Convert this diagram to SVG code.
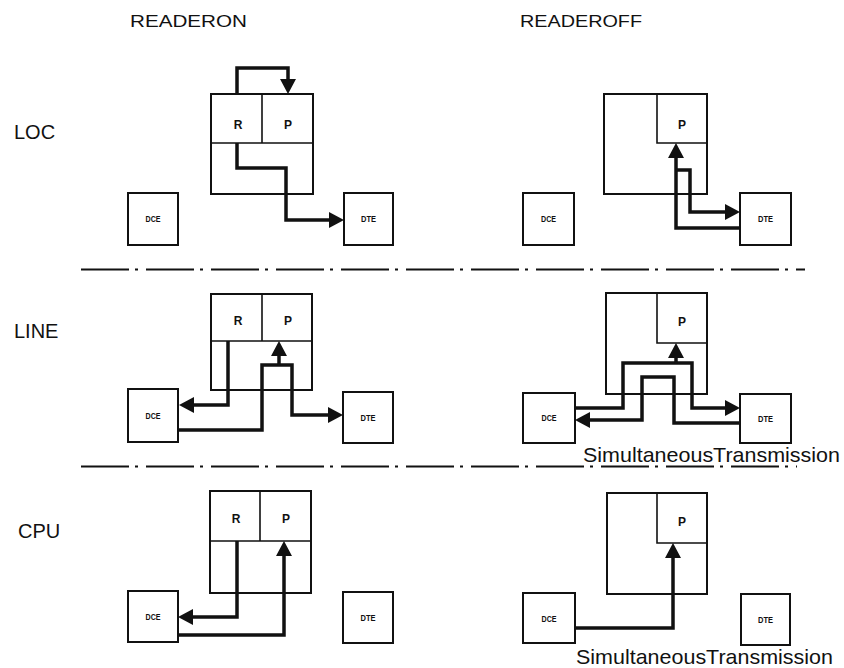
<svg xmlns="http://www.w3.org/2000/svg" width="844" height="668" viewBox="0 0 844 668">
<style>
.bg{fill:#fff}
.box{fill:none;stroke:#111;stroke-width:2}
.div{stroke:#111;stroke-width:1.6;fill:none}
.con{fill:none;stroke:#111;stroke-width:3.5;stroke-linejoin:miter}
.arr{marker-end:url(#ah)}
.dash{stroke:#111;stroke-width:2;stroke-dasharray:48 6 3 8;fill:none}
.hd{font-family:"Liberation Sans",Arial,sans-serif;font-size:17px;fill:#111}
.lb{font-family:"Liberation Sans",Arial,sans-serif;font-size:20px;fill:#111}
.rp{font-family:"Liberation Sans",Arial,sans-serif;font-size:12px;font-weight:bold;fill:#111;text-anchor:middle}
.sm{font-family:"Liberation Sans",Arial,sans-serif;font-size:9px;font-weight:bold;fill:#111;text-anchor:middle}
.st{font-family:"Liberation Sans",Arial,sans-serif;font-size:21px;fill:#111}
</style>
<defs>
<marker id="ah" markerUnits="userSpaceOnUse" markerWidth="16" markerHeight="16" refX="0" refY="8" orient="auto" viewBox="0 0 16 16">
<path d="M0,0 L15,8 L0,16 Z" fill="#111"/>
</marker>
</defs>
<rect class="bg" x="0" y="0" width="844" height="668"/>

<g id="headers">
<text class="hd" x="130" y="27" textLength="117" lengthAdjust="spacingAndGlyphs">READERON</text>
<text class="hd" x="520" y="27" textLength="122" lengthAdjust="spacingAndGlyphs">READEROFF</text>
</g>
<g id="row-labels">
<text class="lb" x="14" y="139">LOC</text>
<text class="lb" x="14" y="338">LINE</text>
<text class="lb" x="18" y="538">CPU</text>
</g>

<g id="separators">
<line class="dash" x1="81" y1="269.5" x2="805" y2="269.5"/>
<line class="dash" x1="81" y1="466.5" x2="797" y2="466.5"/>
</g>

<!-- Row 1 LOC / READERON -->
<g id="loc-on-proc">
<rect class="box" x="211" y="94" width="102" height="100"/>
<path class="div" d="M262,94 V143 M211,143 H313"/>
<text class="rp" x="238" y="129">R</text>
<text class="rp" x="288" y="129">P</text>
</g>
<g id="loc-on-dce"><rect class="box" x="128" y="193" width="50" height="52"/><text class="sm" x="153" y="222" textLength="15" lengthAdjust="spacingAndGlyphs">DCE</text></g>
<g id="loc-on-dte"><rect class="box" x="344" y="193" width="49" height="52"/><text class="sm" x="368.5" y="222" textLength="15" lengthAdjust="spacingAndGlyphs">DTE</text></g>

<!-- Row 1 LOC / READEROFF -->
<g id="loc-off-proc">
<rect class="box" x="604" y="94" width="103" height="100"/>
<path class="div" d="M657,94 V143 H707"/>
<text class="rp" x="682" y="129">P</text>
</g>
<g id="loc-off-dce"><rect class="box" x="523" y="193" width="51" height="52"/><text class="sm" x="548.5" y="222" textLength="15" lengthAdjust="spacingAndGlyphs">DCE</text></g>
<g id="loc-off-dte"><rect class="box" x="740" y="193" width="51" height="52"/><text class="sm" x="765.5" y="222" textLength="15" lengthAdjust="spacingAndGlyphs">DTE</text></g>

<!-- Row 2 LINE / READERON -->
<g id="line-on-proc">
<rect class="box" x="211" y="294" width="101" height="96"/>
<path class="div" d="M262,294 V341 M211,341 H312"/>
<text class="rp" x="238" y="325">R</text>
<text class="rp" x="288" y="325">P</text>
</g>
<g id="line-on-dce"><rect class="box" x="128" y="389" width="50" height="53"/><text class="sm" x="153" y="419" textLength="15" lengthAdjust="spacingAndGlyphs">DCE</text></g>
<g id="line-on-dte"><rect class="box" x="343" y="392" width="50" height="51"/><text class="sm" x="368" y="421" textLength="15" lengthAdjust="spacingAndGlyphs">DTE</text></g>

<!-- Row 2 LINE / READEROFF -->
<g id="line-off-proc">
<rect class="box" x="606" y="293" width="101" height="101"/>
<path class="div" d="M657,293 V343 H707"/>
<text class="rp" x="682" y="326">P</text>
</g>
<g id="line-off-dce"><rect class="box" x="523" y="393" width="52" height="50"/><text class="sm" x="549" y="421" textLength="15" lengthAdjust="spacingAndGlyphs">DCE</text></g>
<g id="line-off-dte"><rect class="box" x="740" y="394" width="51" height="49"/><text class="sm" x="765.5" y="422" textLength="15" lengthAdjust="spacingAndGlyphs">DTE</text></g>
<g id="line-note"><text class="st" x="583" y="462" textLength="257" lengthAdjust="spacingAndGlyphs">SimultaneousTransmission</text></g>

<!-- Row 3 CPU / READERON -->
<g id="cpu-on-proc">
<rect class="box" x="210" y="491" width="101" height="102"/>
<path class="div" d="M260,491 V541 M210,541 H311"/>
<text class="rp" x="236" y="523">R</text>
<text class="rp" x="286" y="523">P</text>
</g>
<g id="cpu-on-dce"><rect class="box" x="128" y="591" width="50" height="51"/><text class="sm" x="153" y="620" textLength="15" lengthAdjust="spacingAndGlyphs">DCE</text></g>
<g id="cpu-on-dte"><rect class="box" x="343" y="592" width="50" height="51"/><text class="sm" x="368" y="621" textLength="15" lengthAdjust="spacingAndGlyphs">DTE</text></g>

<!-- Row 3 CPU / READEROFF -->
<g id="cpu-off-proc">
<rect class="box" x="607" y="493" width="100" height="101"/>
<path class="div" d="M657,493 V543 H707"/>
<text class="rp" x="682" y="526">P</text>
</g>
<g id="cpu-off-dce"><rect class="box" x="523" y="593" width="52" height="50"/><text class="sm" x="549" y="622" textLength="15" lengthAdjust="spacingAndGlyphs">DCE</text></g>
<g id="cpu-off-dte"><rect class="box" x="741" y="594" width="49" height="51"/><text class="sm" x="765.5" y="623" textLength="15" lengthAdjust="spacingAndGlyphs">DTE</text></g>
<g id="cpu-note"><text class="st" x="576" y="664" textLength="257" lengthAdjust="spacingAndGlyphs">SimultaneousTransmission</text></g>

<g id="connectors">
<!-- row 1 -->
<path class="con arr" d="M237,94 V68 H288 V79"/>
<path class="con arr" d="M237,143 V168 H286 V220 H329"/>
<path class="con arr" d="M740,228 H676 V158"/>
<path class="con arr" d="M676,170 H690 V212 H725"/>
<!-- row 2 -->
<path class="con arr" d="M228,341 V405 H194"/>
<path class="con arr" d="M179,430 H262 V365 H292 V415 H328"/>
<path class="con arr" d="M279,366 V356"/>
<path class="con arr" d="M575,408 H623 V363 H692 V408 H725"/>
<path class="con arr" d="M676,364 V358"/>
<path class="con arr" d="M740,423 H674 V377 H642 V420 H590"/>
<!-- row 3 -->
<path class="con arr" d="M237,541 V617 H193"/>
<path class="con arr" d="M178,635 H284 V556"/>
<path class="con arr" d="M575,628 H673 V558"/>
</g>
</svg>
